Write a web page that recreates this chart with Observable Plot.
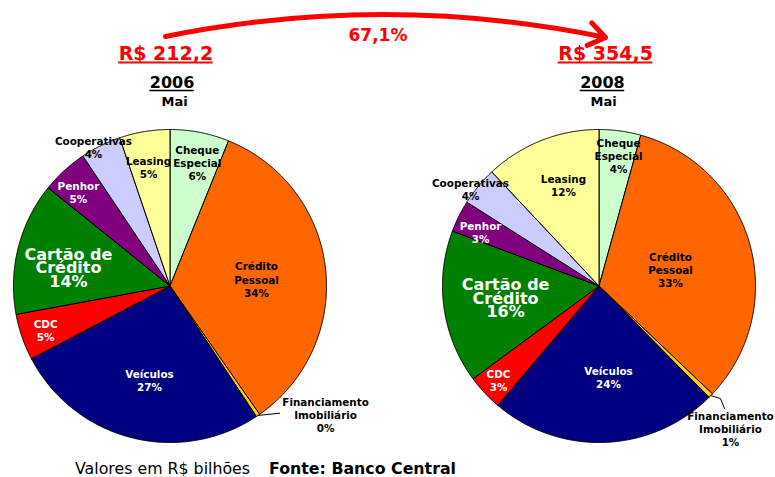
<!DOCTYPE html>
<html><head><meta charset="utf-8">
<script src="https://cdn.jsdelivr.net/npm/d3@7"></script>
<script src="https://cdn.jsdelivr.net/npm/@observablehq/plot@0.6"></script>
<style>
body{margin:0;background:#fff;font-family:"DejaVu Sans",Verdana,sans-serif;}
#chart svg{display:block}
#caption{height:17px;line-height:17px;font-size:15.8px;padding-left:75px;color:#000;white-space:nowrap}
#caption b{margin-left:14px}
</style></head><body>
<div id="chart"></div>
<div id="caption">Valores em R$ bilhões <b>Fonte: Banco Central</b></div>
<script>
// ---------- data ----------
const categories = ["Cheque Especial","Crédito Pessoal","Financiamento Imobiliário","Veículos","CDC","Cartão de Crédito","Penhor","Cooperativas","Leasing"];
const labelNames = ["Cheque\nEspecial","Crédito\nPessoal","Financiamento\nImobiliário","Veículos","CDC","Cartão de\nCrédito","Penhor","Cooperativas","Leasing"];
const years = ["2006","2008"];
const months = ["Mai","Mai"];
const totals = ["R$ 212,2","R$ 354,5"];
const growthLabel = "67,1%";
const share2006 = [6.1, 34.2, 0.4, 26.6, 4.8, 13.7, 4.8, 4.2, 5.2];
const share2008 = [4.3, 32.8, 0.5, 23.6, 3.7, 15.8, 3.3, 4.0, 12.0];
const pct2006 = ["6%","34%","0%","27%","5%","14%","5%","4%","5%"];
const pct2008 = ["4%","33%","1%","24%","3%","16%","3%","4%","12%"];

// ---------- styles / layout ----------
const sliceColors = ["#CCFFCC","#FF6600","#FFCC00","#000080","#FF0000","#008000","#800080","#CCCCFF","#FFFF99"];
const labelColors = ["#000","#000","#000","#fff","#fff","#fff","#fff","#000","#000"];
const FONT = "'DejaVu Sans', Verdana, sans-serif";
const W = 775, H = 460, R = 156.5;
const pieCenters = [[0, 0], [429 / R, 0]];
const labelPos = [
  [[0.174,0.789],[0.553,0.042],[0.994,-0.821],[-0.131,-0.604],[-0.795,-0.281],[-0.649,0.109],[-0.585,0.601],[-0.489,0.888],[-0.137,0.760]],
  [[0.125,0.831],[0.457,0.102],[0.840,-0.914],[0.061,-0.585],[-0.642,-0.604],[-0.597,-0.086],[-0.757,0.345],[-0.821,0.620],[-0.227,0.645]]
];
const leaderPts = [[[0.70,-0.813]], [[0.776,-0.719],[0.802,-0.783]]];
const leaderIndex = 2;
const bigIndex = 5;
const totalOffset = [[-0.026, 1.486], [0.042, 1.486]];
const yearOffset = [[0.013, 1.297], [0.022, 1.297]];
const monthOffset = [[0.029, 1.176], [0.029, 1.176]];
const arrowTail = [-0.029, 1.594], arrowTip = [0.042, 1.588];
const growthPos = [1.329, 1.60];
const totalSize = 19, yearSize = 16;
const totalUnderlineDy = 9 / R, yearUnderlineDy = 7.5 / R;

// ---------- build geometry ----------
const shares = [share2006, share2008];
const pcts = [pct2006, pct2008];
const pie = d3.pie().sort(null).value(d => d);
const sliceRows = [], labelRows = [], bigRows = [], leaderRows = [];
shares.forEach((vals, p) => {
  const [cx, cy] = pieCenters[p];
  pie(vals).forEach((a, i) => {
    const key = p + "-" + i;
    sliceRows.push({key, x: cx, y: cy, fill: sliceColors[i]});
    const n = Math.max(2, Math.ceil((a.endAngle - a.startAngle) / 0.005));
    for (let k = 0; k <= n; k++) {
      const t = a.startAngle + (a.endAngle - a.startAngle) * k / n;
      sliceRows.push({key, x: cx + Math.sin(t), y: cy + Math.cos(t), fill: sliceColors[i]});
    }
    sliceRows.push({key, x: cx, y: cy, fill: sliceColors[i]});
    const [dx, dy] = labelPos[p][i];
    const row = {x: cx + dx, y: cy + dy, text: labelNames[i] + "\n" + pcts[p][i], color: labelColors[i]};
    (i === bigIndex ? bigRows : labelRows).push(row);
    if (i === leaderIndex) {
      const m = (a.startAngle + a.endAngle) / 2;
      leaderRows.push({key: p, x: cx + Math.sin(m), y: cy + Math.cos(m)});
      leaderPts[p].forEach(([lx, ly]) => leaderRows.push({key: p, x: cx + lx, y: cy + ly}));
    }
  });
});
const ctx = document.createElement("canvas").getContext("2d");
function textWidth(s, size) { ctx.font = `bold ${size}px ${FONT}`; return ctx.measureText(s).width / R; }
const titleRows = years.map((yr, p) => ({
  p, total: totals[p], year: yr, month: months[p],
  tx: pieCenters[p][0] + totalOffset[p][0], ty: pieCenters[p][1] + totalOffset[p][1],
  yx: pieCenters[p][0] + yearOffset[p][0], yy: pieCenters[p][1] + yearOffset[p][1],
  mx: pieCenters[p][0] + monthOffset[p][0], my: pieCenters[p][1] + monthOffset[p][1]
}));
const totalLines = titleRows.map(d => {
  const w = textWidth(d.total, totalSize);
  return {x1: d.tx - w / 2, x2: d.tx + w / 2, y: d.ty - totalUnderlineDy};
});
const yearLines = titleRows.map(d => {
  const w = textWidth(d.year, yearSize);
  return {x1: d.yx - w / 2, x2: d.yx + w / 2, y: d.yy - yearUnderlineDy};
});
const arrowRow = [{
  x1: pieCenters[0][0] + arrowTail[0], y1: pieCenters[0][1] + arrowTail[1],
  x2: pieCenters[1][0] + arrowTip[0], y2: pieCenters[1][1] + arrowTip[1]
}];

const chart = Plot.plot({
  width: W, height: H, margin: 0,
  x: {domain: [-169.5 / R, (W - 169.5) / R], axis: null},
  y: {domain: [-(H - 285.5) / R, 285.5 / R], axis: null},
  color: {type: "identity"},
  style: {fontFamily: FONT, background: "white", overflow: "visible"},
  marks: [
    Plot.line(sliceRows, {x: "x", y: "y", z: "key", fill: "fill", stroke: "#000", strokeWidth: 1, strokeLinejoin: "round"}),
    Plot.line(leaderRows, {x: "x", y: "y", z: "key", stroke: "#000", strokeWidth: 1}),
    Plot.text(labelRows, {x: "x", y: "y", text: "text", fill: "color", fontSize: 10.4, fontWeight: "bold", lineHeight: 1.27}),
    Plot.text(bigRows, {x: "x", y: "y", text: "text", fill: "color", fontSize: 16, fontWeight: "bold", lineHeight: 0.85}),
    Plot.arrow(arrowRow, {x1: "x1", y1: "y1", x2: "x2", y2: "y2", bend: 11.5, stroke: "#FF0000", strokeWidth: 5, headLength: 6, headAngle: 70}),
    Plot.text([growthLabel], {x: growthPos[0], y: growthPos[1], text: d => d, fill: "#FF0000", fontSize: 17, fontWeight: "bold"}),
    Plot.text(titleRows, {x: "tx", y: "ty", text: "total", fill: "#FF0000", fontSize: totalSize, fontWeight: "bold"}),
    Plot.ruleY(totalLines, {x1: "x1", x2: "x2", y: "y", stroke: "#FF0000", strokeWidth: 2}),
    Plot.text(titleRows, {x: "yx", y: "yy", text: "year", fill: "#000", fontSize: yearSize, fontWeight: "bold"}),
    Plot.ruleY(yearLines, {x1: "x1", x2: "x2", y: "y", stroke: "#000", strokeWidth: 1.6}),
    Plot.text(titleRows, {x: "mx", y: "my", text: "month", fill: "#000", fontSize: 13, fontWeight: "bold"})
  ]
});
document.getElementById("chart").appendChild(chart);
</script>
</body></html>
